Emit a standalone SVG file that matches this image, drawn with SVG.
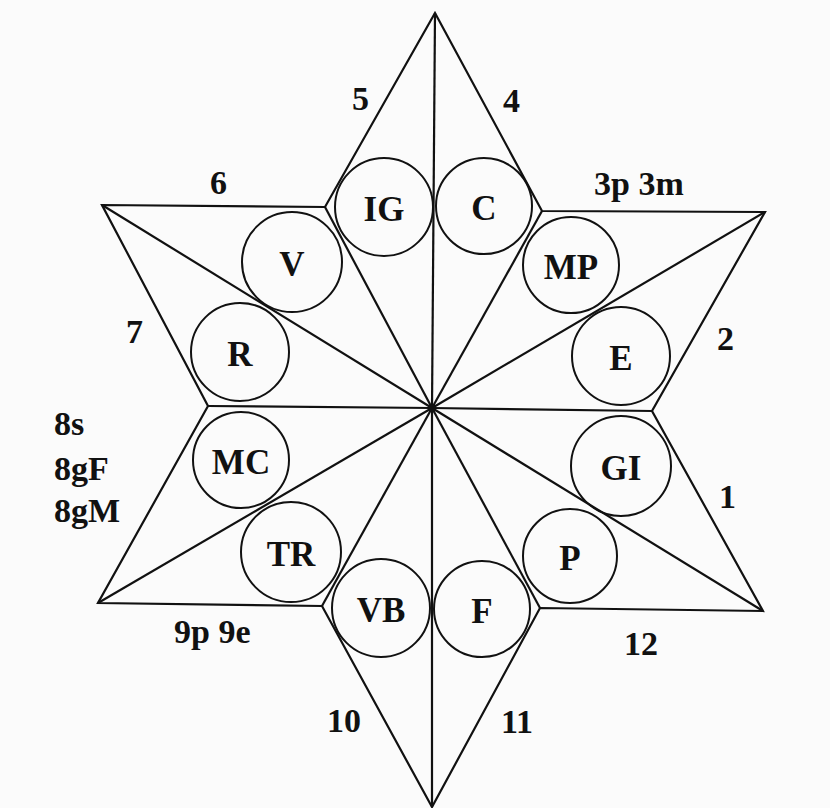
<svg xmlns="http://www.w3.org/2000/svg" width="830" height="808" viewBox="0 0 830 808">
<style>
.ln{stroke:#111;stroke-width:2.2;fill:none;stroke-linejoin:miter}
.cir{stroke:#111;stroke-width:2;fill:none}
.lab{font-family:"Liberation Serif","Times New Roman",serif;font-weight:bold;font-size:34px;fill:#111}
.cl{font-family:"Liberation Serif","Times New Roman",serif;font-weight:bold;font-size:35px;fill:#111;text-anchor:middle}
</style>
<rect width="830" height="808" fill="#fbfbfb"/>
<g id="connectors">
<polygon class="ln" points="435,13 542,211 765,212 652,411 763,611 540,608 432,807 322,606 98,603 208,406 102,205 325,207"/>
<line class="ln" x1="432" y1="408" x2="435" y2="13"/>
<line class="ln" x1="432" y1="408" x2="432" y2="807"/>
<line class="ln" x1="432" y1="408" x2="208" y2="406"/>
<line class="ln" x1="432" y1="408" x2="652" y2="411"/>
<line class="ln" x1="432" y1="408" x2="102" y2="205"/>
<line class="ln" x1="432" y1="408" x2="765" y2="212"/>
<line class="ln" x1="432" y1="408" x2="98" y2="603"/>
<line class="ln" x1="432" y1="408" x2="763" y2="611"/>
<line class="ln" x1="432" y1="408" x2="325" y2="207"/>
<line class="ln" x1="432" y1="408" x2="542" y2="211"/>
<line class="ln" x1="432" y1="408" x2="322" y2="606"/>
<line class="ln" x1="432" y1="408" x2="540" y2="608"/>
<circle cx="432" cy="408" r="4" fill="#111"/>
</g>
<g id="node-IG"><circle class="cir" cx="384" cy="207" r="49" stroke="#555"/><text class="cl" x="384" y="221">IG</text></g>
<g id="node-C"><circle class="cir" cx="484" cy="206" r="48"/><text class="cl" x="484" y="220">C</text></g>
<g id="node-V"><circle class="cir" cx="292" cy="262" r="50"/><text class="cl" x="292" y="276">V</text></g>
<g id="node-R"><circle class="cir" cx="240" cy="352" r="49"/><text class="cl" x="240" y="366">R</text></g>
<g id="node-MP"><circle class="cir" cx="571" cy="265" r="48"/><text class="cl" x="571" y="279">MP</text></g>
<g id="node-E"><circle class="cir" cx="621" cy="356" r="49"/><text class="cl" x="621" y="370">E</text></g>
<g id="node-MC"><circle class="cir" cx="241" cy="460" r="48"/><text class="cl" x="241" y="474">MC</text></g>
<g id="node-TR"><circle class="cir" cx="291" cy="552" r="50"/><text class="cl" x="291" y="566">TR</text></g>
<g id="node-GI"><circle class="cir" cx="621" cy="466" r="50"/><text class="cl" x="621" y="480">GI</text></g>
<g id="node-P"><circle class="cir" cx="570" cy="556" r="47"/><text class="cl" x="570" y="570">P</text></g>
<g id="node-VB"><circle class="cir" cx="381" cy="608" r="49"/><text class="cl" x="381" y="622">VB</text></g>
<g id="node-F"><circle class="cir" cx="482" cy="609" r="48"/><text class="cl" x="482" y="623">F</text></g>
<g id="labels">
<text class="lab" x="352" y="110">5</text>
<text class="lab" x="503" y="112">4</text>
<text class="lab" x="210" y="194">6</text>
<text class="lab" x="594" y="195">3p 3m</text>
<text class="lab" x="126" y="343">7</text>
<text class="lab" x="717" y="350">2</text>
<text class="lab" x="54" y="435">8s</text>
<text class="lab" x="54" y="480">8gF</text>
<text class="lab" x="54" y="522">8gM</text>
<text class="lab" x="719" y="508">1</text>
<text class="lab" x="174" y="643">9p 9e</text>
<text class="lab" x="624" y="655">12</text>
<text class="lab" x="327" y="732">10</text>
<text class="lab" x="501" y="733">11</text>
</g>
</svg>
